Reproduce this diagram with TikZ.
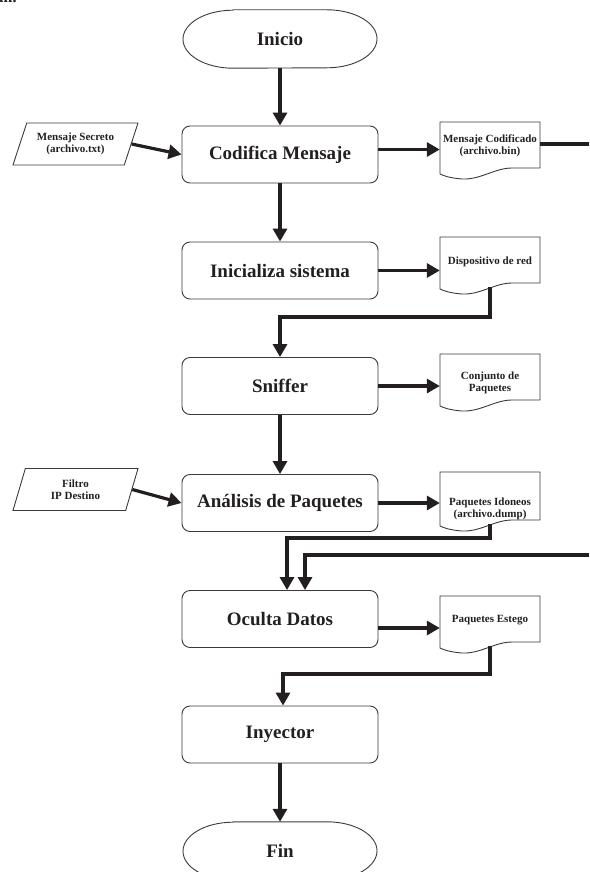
\documentclass[tikz,border=0pt]{standalone}
\usepackage{fontspec}
\setmainfont{Liberation Serif}
\usetikzlibrary{calc,arrows.meta,shapes.geometric}

\definecolor{ink}{HTML}{231F20}
\definecolor{edge}{HTML}{3A3A3A}

\tikzset{
  flow/.style={line width=3.2pt, draw=ink, -{Triangle[length=13pt,width=14pt]}},
  plain/.style={line width=3.2pt, draw=ink},
  outline/.style={draw=edge, line width=0.9pt},
  procbox/.style={outline, rounded corners=8pt, minimum width=196pt, minimum height=57pt,
    inner sep=0pt, text=ink, font=\fontsize{19}{21}\selectfont\bfseries},
  termnode/.style={minimum width=194pt, minimum height=58pt, inner sep=0pt, text=ink,
    font=\fontsize{19}{21}\selectfont\bfseries},
  doctext/.style={minimum width=100pt, inner sep=0pt, align=center, text=ink,
    font=\fontsize{11}{12}\selectfont\bfseries},
  datain/.style={outline, trapezium, trapezium left angle=58, trapezium right angle=122,
    trapezium stretches body=true, minimum width=125pt, minimum height=42pt, inner sep=0pt,
    align=center, text=ink, font=\fontsize{11}{12}\selectfont\bfseries},
}

% start / end terminal: straight top and bottom, elliptical ends
\newcommand{\termoutline}[1]{%
  \draw[outline] ($(#1.north)+(-47,0)$) -- ($(#1.north)+(47,0)$)
    arc[start angle=90, end angle=-90, x radius=50pt, y radius=29pt]
    -- ($(#1.south)+(-47,0)$)
    arc[start angle=270, end angle=90, x radius=50pt, y radius=29pt] -- cycle;}

% document symbol around a text node: #2 = top above centre, #3 = right bottom below centre
\newcommand{\wavydoc}[3]{%
  \draw[outline] ($(#1.center)+(-50,#2)$) -- ($(#1.center)+(50,#2)$)
    -- ($(#1.center)+(50,-#3)$) -- ($(#1.center)+(22,-#3)$)
    .. controls ($(#1.center)+(5,-#3)$) and ($(#1.center)+(-10,-#3-12)$) .. ($(#1.center)+(-28,-#3-11)$)
    .. controls ($(#1.center)+(-40,-#3-10)$) and ($(#1.center)+(-46,-#3-8)$) .. ($(#1.center)+(-50,-#3-6)$)
    -- cycle;
  \coordinate (#1-bot) at ($(#1.center)+(0,-#3-4)$);}

\begin{document}
\begin{tikzpicture}[x=1pt, y=1pt]
\useasboundingbox (0,0) rectangle (589,-872);

% fragment of the preceding line of text
\node[anchor=base west, inner sep=0pt, text=ink, font=\fontsize{16}{18}\selectfont\bfseries] (frag) at (-1,-3) {m.};

% main process chain
\node[termnode] (inicio) at (280,-39) {Inicio};
\termoutline{inicio}
\node[procbox] (cod)   at (280,-154.5) {Codifica Mensaje};
\node[procbox] (ini)   at (280,-270.5) {Inicializa sistema};
\node[procbox] (sniff) at (280,-386)   {Sniffer};
\node[procbox] (anal)  at (280,-503)   {Análisis de Paquetes};
\node[procbox] (ocul)  at (280,-619)   {Oculta Datos};
\node[procbox] (iny)   at (280,-734.5) {Inyector};
\node[termnode] (fin)  at (280,-851) {Fin};
\termoutline{fin}

% inputs
\node[datain] (msec) at (75.5,-144)  {Mensaje Secreto\\(archivo.txt)};
\node[datain] (filt) at (75.5,-489.5) {Filtro\\IP Destino};

% documents
\node[doctext] (dcod)  at (490,-146) {Mensaje Codificado\\(archivo.bin)};
\wavydoc{dcod}{24}{22}
\node[doctext] (ddisp) at (490,-262) {Dispositivo de red};
\wavydoc{ddisp}{25}{21}
\node[doctext] (dconj) at (490,-383) {Conjunto de\\Paquetes};
\wavydoc{dconj}{29}{17}
\node[doctext] (didon) at (490,-509) {Paquetes Idoneos\\(archivo.dump)};
\wavydoc{didon}{37}{11}
\node[doctext] (deste) at (490,-620) {Paquetes Estego};
\wavydoc{deste}{24}{22}

% routing points
\coordinate (outA) at (589,-144);
\coordinate (j1) at (280,-317);
\coordinate (j2) at (287,-538);
\coordinate (inB) at (589,-555);
\coordinate (j3) at (305,-555);
\coordinate (j4) at (283,-674);

% connectors
\draw[flow] (inicio.south) -- (cod.north);
\draw[flow] (msec.east) -- (cod.west);
\draw[flow] ([yshift=5pt]cod.east) -- ([yshift=5pt]cod.east -| dcod.west);
\draw[plain] (dcod.east |- outA) -- (outA);
\draw[flow] (cod.south) -- (ini.north);
\draw[flow] (ini.east) -- (ini.east -| ddisp.west);
\draw[flow] (ddisp-bot) |- (j1) -- (sniff.north);
\draw[flow] (sniff.east) -- (sniff.east -| dconj.west);
\draw[flow] (sniff.south) -- (anal.north);
\draw[flow] (filt.east) -- (anal.west);
\draw[flow] (anal.east) -- (anal.east -| didon.west);
\draw[flow] (didon-bot) |- (j2) -- (j2 |- ocul.north);
\draw[flow] (inB) -- (j3) -- (j3 |- ocul.north);
\draw[flow] ([yshift=-9pt]ocul.east) -- ([yshift=-9pt]ocul.east -| deste.west);
\draw[flow] (deste-bot) |- (j4) -- (j4 |- iny.north);
\draw[flow] (iny.south) -- (fin.north);
\end{tikzpicture}
\end{document}
